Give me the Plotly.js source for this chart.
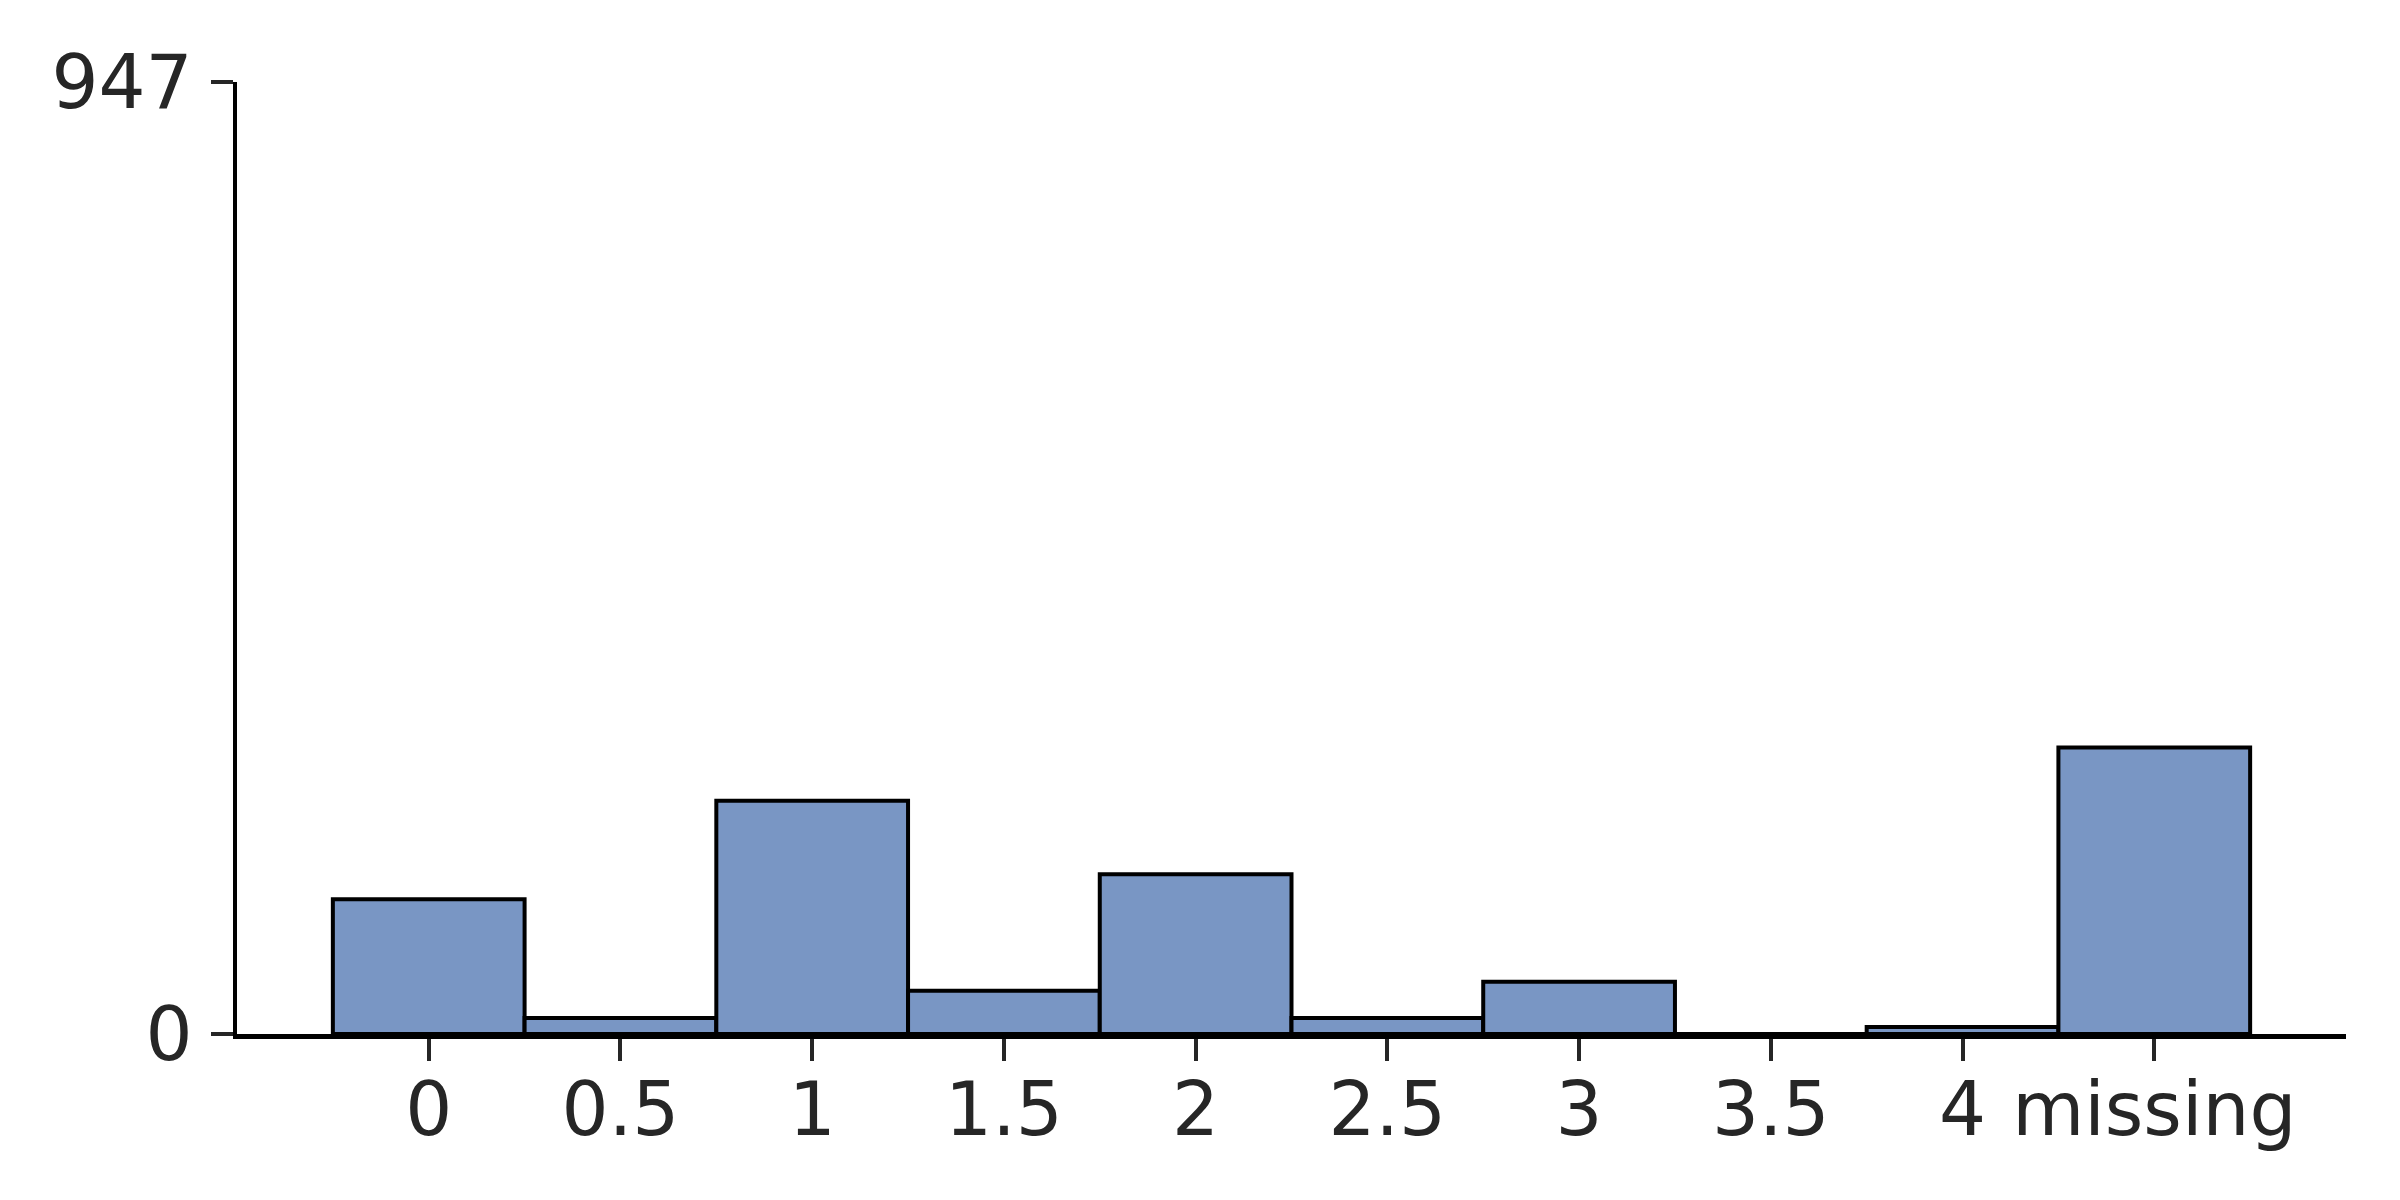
<!DOCTYPE html>
<html>
<head>
<meta charset="utf-8">
<script src="https://cdn.plot.ly/plotly-3.0.1.min.js"></script>
<style>html,body{margin:0;padding:0;background:#fff;}</style>
</head>
<body>
<div id="chart" style="width:2400px;height:1200px;"></div>
<script>
const binCenters = [0, 0.5, 1, 1.5, 2, 2.5, 3, 3.5, 4, 4.5];
const counts = [134, 16, 232, 43, 159, 16, 52, 0, 7, 285];
const tickLabels = ["0", "0.5", "1", "1.5", "2", "2.5", "3", "3.5", "4", "missing"];
const yTicks = [0, 947];

const trace = {
  type: 'bar',
  x: binCenters,
  y: counts,
  width: 0.5,
  marker: {color: '#7996c4', line: {color: '#000000', width: 4}},
  hoverinfo: 'x+y'
};

const font = {family: 'DejaVu Sans, sans-serif', size: 74, color: '#262626'};

const layout = {
  width: 2400,
  height: 1200,
  margin: {l: 237, r: 54, t: 82, b: 166, pad: 0},
  paper_bgcolor: '#ffffff',
  plot_bgcolor: '#ffffff',
  showlegend: false,
  bargap: 0,
  font: font,
  xaxis: {
    range: [-0.5, 5],
    tickmode: 'array',
    tickvals: binCenters,
    ticktext: tickLabels,
    tickangle: 0,
    showgrid: false,
    zeroline: false,
    showline: true,
    linecolor: '#000000',
    linewidth: 4.5,
    ticks: 'outside',
    ticklen: 22,
    tickwidth: 4,
    tickcolor: '#262626',
    tickfont: font,
    ticklabelstandoff: -14
  },
  yaxis: {
    range: [0, 947],
    tickmode: 'array',
    tickvals: yTicks,
    ticktext: yTicks.map(String),
    showgrid: false,
    zeroline: false,
    showline: true,
    linecolor: '#000000',
    linewidth: 4.5,
    ticks: 'outside',
    ticklen: 22,
    tickwidth: 4,
    tickcolor: '#262626',
    tickfont: font,
    ticklabelstandoff: 3
  }
};

Plotly.newPlot('chart', [trace], layout, {displayModeBar: false, staticPlot: true});
</script>
</body>
</html>
